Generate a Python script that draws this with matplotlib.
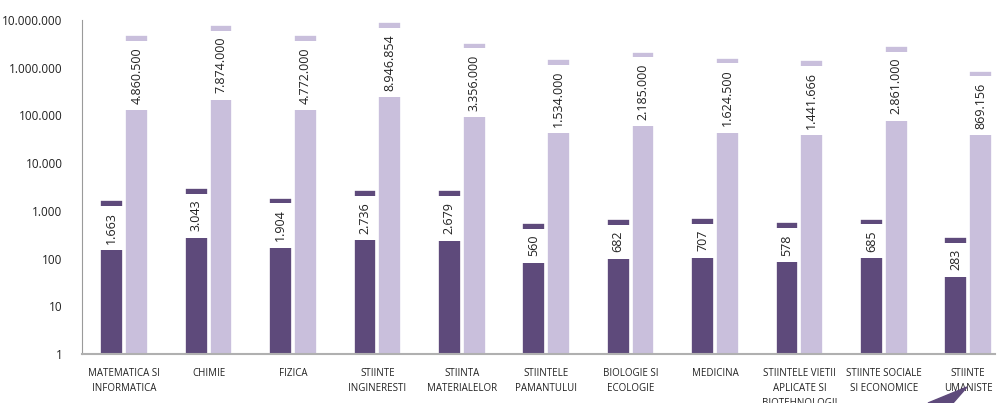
import matplotlib
matplotlib.use("Agg")
import matplotlib.pyplot as plt
from matplotlib.patches import Polygon

categories = ["MATEMATICA SI\nINFORMATICA", "CHIMIE", "FIZICA", "STIINTE\nINGINERESTI",
              "STIINTA\nMATERIALELOR", "STIINTELE\nPAMANTULUI", "BIOLOGIE SI\nECOLOGIE",
              "MEDICINA", "STIINTELE VIETII\nAPLICATE SI\nBIOTEHNOLOGII",
              "STIINTE SOCIALE\nSI ECONOMICE", "STIINTE\nUMANISTE"]
series_dark = [1663, 3043, 1904, 2736, 2679, 560, 682, 707, 578, 685, 283]
series_light = [4860500, 7874000, 4772000, 8946854, 3356000, 1534000, 2185000,
                1624500, 1441666, 2861000, 869156]
tick_values = [1, 10, 100, 1000, 10000, 100000, 1000000, 10000000]

plt.rcParams['font.family'] = ['Open Sans', 'DejaVu Sans']

def fmt(v):
    return f"{v:,}".replace(",", ".")

W, H = 999, 403
fig = plt.figure(figsize=(W / 100, H / 100), dpi=100)
ax = fig.add_axes([82 / W, 49 / H, (995 - 82) / W, (354 - 20) / H])

dark = "#5e4a7b"
light = "#c9bfdc"
bw = 0.27
off = 0.148
x = list(range(len(categories)))
ax.bar([i - off for i in x], series_dark, width=bw, color=dark, edgecolor="white", linewidth=1.2, zorder=2)
ax.bar([i + off for i in x], series_light, width=bw, color=light, edgecolor="white", linewidth=1.2, zorder=2)

for i in x:
    for xv, v in ((i - off, series_dark[i]), (i + off, series_light[i])):
        ax.annotate(fmt(v), xy=(xv, v), xytext=(0, -12), textcoords="offset pixels",
                    rotation=90, ha="center", va="top", fontsize=9, color="#222222",
                    bbox=dict(boxstyle="square,pad=0.5", fc="white", ec="none"), zorder=3)

ax.set_yscale("log")
ax.set_ylim(1, 1e7)
ax.set_xlim(-0.5, -0.5 + (995 - 82) / 84.4)
ax.set_yticks(tick_values)
ax.set_yticklabels([fmt(v) for v in tick_values], fontsize=8.5, color="#222222")
ax.yaxis.set_minor_locator(matplotlib.ticker.NullLocator())
ax.set_xticks(x)
ax.set_xticklabels(categories, fontsize=7, color="#222222", linespacing=1.5)
ax.tick_params(axis="both", length=0)
ax.tick_params(axis="x", pad=10)
ax.tick_params(axis="y", pad=14)
for s in ("top", "right"):
    ax.spines[s].set_visible(False)
ax.spines["left"].set_color("#9a9a9a")
ax.spines["bottom"].set_color("#b0b0b0")
ax.spines["bottom"].set_linewidth(1.5)

tri = Polygon([(928 / W, 0), (967 / W, 1 - 387 / H), (953 / W, 0)],
              closed=True, transform=fig.transFigure, color="#5e4a7b", zorder=5)
fig.patches.append(tri)

fig.savefig("out.png", dpi=100)
